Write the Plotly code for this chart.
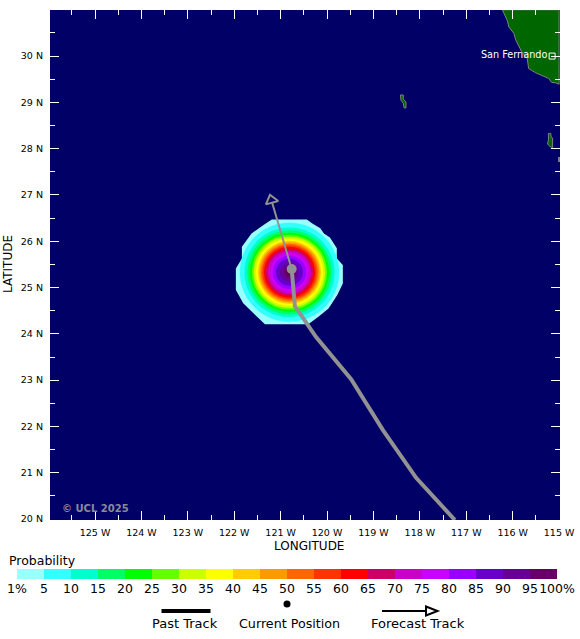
import plotly.graph_objects as go

# strike probability bands
band_labels = ["1%", "5", "10", "15", "20", "25", "30", "35", "40", "45", "50",
               "55", "60", "65", "70", "75", "80", "85", "90", "95", "100%"]
band_colors = ["#99ffff", "#33ffff", "#00ffcc", "#00ff66", "#00ff00", "#66ff00", "#ccff00",
               "#ffff00", "#ffcc00", "#ff9900", "#ff6600", "#ff3300", "#ff0000", "#cc0066",
               "#cc00cc", "#cc00ff", "#9900ff", "#6600cc", "#660099", "#660066"]

# radius of each band (degrees), from the 5% band inwards; 1% band has its own outline
band_radii = [1.07, 0.97, 0.91, 0.855, 0.81, 0.77, 0.725, 0.68, 0.65, 0.615,
              0.585, 0.55, 0.51, 0.465, 0.41, 0.36, 0.29, 0.205, 0.12]
field_lon = -120.81
field_lat = 25.33

outer_lon = [-121.19, -120.435, -120.325, -120.146, -120.067, -119.938, -119.789, -119.789, -119.66, -119.66,
             -119.779, -119.968, -120.186, -120.405, -121.339, -121.547, -121.806, -121.965, -121.965, -121.835,
             -121.835, -121.627, -121.369]
outer_lat = [26.47, 26.47, 26.39, 26.28, 26.17, 26.08, 25.85, 25.63, 25.49, 25.09,
             24.84, 24.55, 24.37, 24.21, 24.21, 24.41, 24.66, 24.95, 25.41, 25.63,
             25.88, 26.17, 26.35]

# track
past_lon = [-120.762, -120.693, -120.236, -119.481, -118.795, -118.08, -117.245]
past_lat = [25.40, 24.60, 23.93, 23.02, 21.92, 20.89, 19.98]
forecast_lon = [-120.762, -121.2]
forecast_lat = [25.40, 26.89]

# land
coast_lon = [-116.222, -116.162, -116.113, -116.083, -116.023, -115.974, -115.934, -115.874, -115.805, -115.686,
             -115.656, -115.507, -115.378, -115.229, -115.159, -115.07, -115.0, -115.0, -116.222]
coast_lat = [31.0, 30.85, 30.76, 30.63, 30.55, 30.49, 30.35, 30.24, 30.09, 29.95,
             29.73, 29.64, 29.59, 29.52, 29.43, 29.42, 29.39, 31.0, 31.0]
island1_lon = [-118.418, -118.358, -118.358, -118.299, -118.299, -118.338, -118.358, -118.408, -118.418]
island1_lat = [29.16, 29.16, 29.07, 29.01, 28.88, 28.88, 28.98, 29.05, 29.16]
island2_lon = [-115.229, -115.179, -115.169, -115.139, -115.139, -115.189, -115.248, -115.229, -115.229]
island2_lat = [28.33, 28.33, 28.24, 28.23, 28.02, 28.04, 28.10, 28.19, 28.33]
island3_lon = [-115.0, -115.0]
island3_lat = [27.71, 27.82]
city_lon = [-115.15]
city_lat = [30.0]
city_name = ["San Fernando"]

lon_ticks = [-125, -124, -123, -122, -121, -120, -119, -118, -117, -116, -115]
lat_ticks = [20, 21, 22, 23, 24, 25, 26, 27, 28, 29, 30, 31]

W, H = 580, 639
NAVY = "#000066"
GREEN = "#006600"
GRAY = "#929292"
FONT = "DejaVu Sans"


def px(x):
    return x / W


def py(y):
    return 1 - y / H


fig = go.Figure()

# land
for lons, lats in [(coast_lon, coast_lat), (island1_lon, island1_lat), (island2_lon, island2_lat)]:
    fig.add_trace(go.Scatter(x=lons, y=lats, mode="lines", fill="toself", fillcolor=GREEN,
                             line=dict(color="#808080", width=1), hoverinfo="skip"))
fig.add_trace(go.Scatter(x=island3_lon, y=island3_lat, mode="lines",
                         line=dict(color="#808080", width=2), hoverinfo="skip"))

# probability field, drawn under the traces
path = "M " + " L ".join(f"{a},{b}" for a, b in zip(outer_lon, outer_lat)) + " Z"
fig.add_shape(type="path", path=path, xref="x", yref="y", layer="below",
              fillcolor=band_colors[0], line_width=0)
for r, c in zip(band_radii, band_colors[1:]):
    fig.add_shape(type="circle", xref="x", yref="y", layer="below",
                  x0=field_lon - r, x1=field_lon + r, y0=field_lat - r, y1=field_lat + r,
                  fillcolor=c, line_width=0)

# tracks
fig.add_trace(go.Scatter(x=forecast_lon, y=forecast_lat, mode="lines",
                         line=dict(color=GRAY, width=2), hoverinfo="skip"))
fig.add_trace(go.Scatter(x=past_lon, y=past_lat, mode="lines",
                         line=dict(color=GRAY, width=4), hoverinfo="skip"))
fig.add_trace(go.Scatter(x=forecast_lon[-1:], y=forecast_lat[-1:], mode="markers",
                         marker=dict(symbol="triangle-up", size=11, angle=-15, color=NAVY,
                                     line=dict(color=GRAY, width=2)), hoverinfo="skip"))
fig.add_trace(go.Scatter(x=past_lon[:1], y=past_lat[:1], mode="markers",
                         marker=dict(color=GRAY, size=10), hoverinfo="skip"))

# city
fig.add_trace(go.Scatter(x=city_lon, y=city_lat, mode="markers+text", text=city_name,
                         textposition="middle left",
                         textfont=dict(family=FONT, size=9.7, color="white"),
                         marker=dict(symbol="square-open", size=6, color="white", line=dict(width=1)),
                         hoverinfo="skip"))

# colour key
n = len(band_colors)
scale = []
for i, c in enumerate(band_colors):
    scale += [[i / n, c], [(i + 1) / n, c]]
fig.add_trace(go.Heatmap(x=list(range(n + 1)), y=[0, 1], z=[list(range(n))], xaxis="x2", yaxis="y2",
                         colorscale=scale, zmin=-0.5, zmax=n - 0.5, showscale=False, hoverinfo="skip"))

tickstyle = dict(ticks="inside", ticklen=9, tickcolor="white", tickwidth=1, showgrid=False,
                 zeroline=False, mirror="ticks", showline=False, automargin=False,
                 tickfont=dict(family=FONT, size=9.5, color="black"),
                 minor=dict(ticks="inside", ticklen=5, tickcolor="white", tickwidth=1, dtick=0.5, showgrid=False))

fig.update_layout(
    width=W, height=H, margin=dict(l=0, r=0, t=0, b=0), showlegend=False,
    paper_bgcolor="white", plot_bgcolor=NAVY,
    font=dict(family=FONT, color="black"),
    xaxis=dict(domain=[px(50), px(560)], range=[-125.97, -114.98], tickvals=lon_ticks,
               ticktext=[f"{-v} W" for v in lon_ticks], anchor="y", ticklabelstandoff=5, **tickstyle),
    yaxis=dict(domain=[py(520), py(10)], range=[19.98, 30.995], tickvals=lat_ticks,
               ticktext=[f"{v} N" for v in lat_ticks], anchor="x", ticklabelstandoff=6, **tickstyle),
    xaxis2=dict(domain=[px(17), px(557)], range=[0, n], anchor="y2", tickvals=list(range(n + 1)),
                ticktext=band_labels, ticks="", showgrid=False, zeroline=False, automargin=False,
                tickfont=dict(family=FONT, size=12.5, color="black"), tickangle=0),
    yaxis2=dict(domain=[py(579), py(569)], range=[0, 1], anchor="x2", visible=False, automargin=False),
)


def label(x, y, text, size=12, anchor="center", **kw):
    fig.add_annotation(xref="paper", yref="paper", x=px(x), y=py(y), text=text, showarrow=False,
                       xanchor=anchor, yanchor="middle", font=dict(family=FONT, size=size, color="black"), **kw)


label(309, 546, "LONGITUDE")
label(8, 264, "LATITUDE", textangle=-90)
label(7, 560, "Probability", size=12.5, anchor="left")
label(185, 623, "Past Track", size=13)
label(289.5, 623, "Current Position", size=12.7)
label(417.5, 623, "Forecast Track", size=13)
fig.add_annotation(xref="paper", yref="paper", x=px(60), y=py(508), text="© UCL 2025", showarrow=False,
                   xanchor="left", yanchor="middle", font=dict(family=FONT, size=10, color="#8a8a9a", weight="bold"))

# key samples below the chart
fig.add_shape(type="line", xref="paper", yref="paper", x0=px(161.5), x1=px(210.5), y0=py(611), y1=py(611),
              line=dict(color="black", width=4))
fig.add_shape(type="circle", xref="paper", yref="paper", x0=px(283.5), x1=px(290.5), y0=py(607.5), y1=py(600.5),
              fillcolor="black", line_width=0)
fig.add_shape(type="line", xref="paper", yref="paper", x0=px(382), x1=px(426), y0=py(611), y1=py(611),
              line=dict(color="black", width=2))
fig.add_shape(type="path", xref="paper", yref="paper",
              path=f"M {px(426)},{py(606.5)} L {px(437.5)},{py(611)} L {px(426)},{py(615.5)} Z",
              fillcolor="white", line=dict(color="black", width=2))

fig.write_html("out.html", config=dict(displayModeBar=False),
               post_script="document.body.style.margin='0';")
